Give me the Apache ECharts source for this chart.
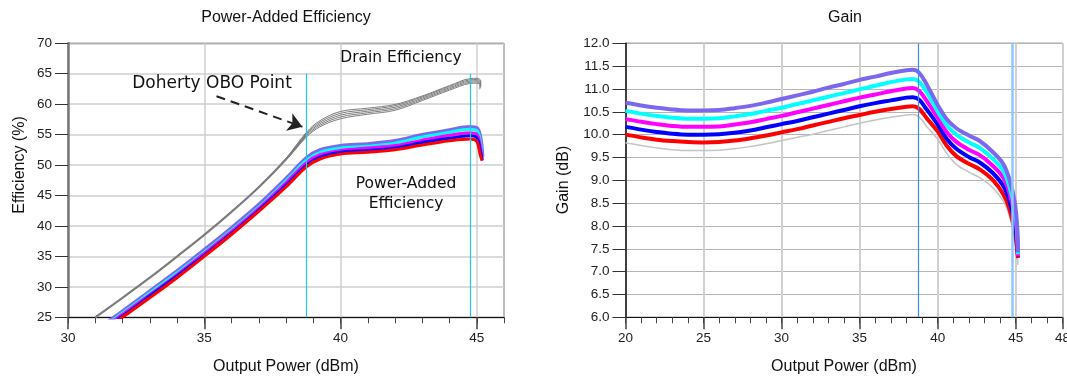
<!DOCTYPE html>
<html>
<head>
<meta charset="utf-8">
<script src="https://cdn.jsdelivr.net/npm/echarts@6/dist/echarts.min.js"></script>
<style>
  html, body { margin: 0; padding: 0; background: #fff; }
  #chart { width: 1067px; height: 380px; }
</style>
</head>
<body>
<div id="chart"></div>
<script>
// ---------- Data ----------
// Left chart: Power-Added Efficiency / Drain Efficiency (x = Output Power, dBm)
const effX = [31, 32, 33, 34, 35, 36, 37, 38, 38.75, 39.25, 40, 41, 42, 43, 44, 44.75, 45.0, 45.12, 45.2];
const paePurple  = [22.7, 25.9, 29.2, 32.5, 36.0, 39.6, 43.4, 47.7, 51.1, 52.4, 53.1, 53.4, 53.9, 54.9, 55.7, 56.2, 56.0, 54.6, 51.4];
const paeCyan    = [22.5, 25.7, 29.0, 32.3, 35.7, 39.3, 43.1, 47.4, 50.8, 52.1, 52.8, 53.1, 53.6, 54.6, 55.4, 55.9, 55.7, 54.2, 51.3];
const paeMagenta = [22.3, 25.5, 28.7, 32.0, 35.5, 39.1, 42.9, 47.1, 50.4, 51.7, 52.4, 52.8, 53.2, 54.1, 54.9, 55.3, 55.1, 53.4, 51.0];
const paeBlue    = [22.1, 25.2, 28.5, 31.8, 35.2, 38.8, 42.6, 46.7, 50.0, 51.3, 52.1, 52.4, 52.8, 53.7, 54.4, 54.8, 54.5, 52.6, 50.8];
const paeRed     = [21.9, 25.0, 28.2, 31.5, 35.0, 38.6, 42.4, 46.4, 49.7, 51.0, 51.8, 52.1, 52.5, 53.3, 54.0, 54.3, 53.9, 51.8, 50.7];

const drainX = [31, 32, 33, 34, 35, 36, 37, 38, 38.75, 39.25, 40, 41, 42, 43, 44, 44.75, 45.0, 45.15, 45.1];
const drainA = [25.0, 28.22, 31.55, 35.02, 38.57, 42.37, 46.42, 51.1, 55.4, 57.3, 58.8, 59.35, 59.95, 61.35, 63.05, 64.2, 64.25, 63.85, 63.25];
const drainB = [25.0, 28.21, 31.53, 35.0, 38.55, 42.35, 46.39, 51.03, 55.2, 57.05, 58.5, 59.1, 59.75, 61.2, 62.9, 64.0, 64.05, 63.65, 63.05];
const drainC = [25.0, 28.2, 31.5, 34.98, 38.53, 42.32, 46.36, 50.96, 55.0, 56.8, 58.2, 58.85, 59.5, 61.0, 62.7, 63.8, 63.85, 63.45, 62.85];
const drainD = [25.0, 28.19, 31.48, 34.96, 38.5, 42.3, 46.33, 50.89, 54.8, 56.55, 57.9, 58.6, 59.25, 60.8, 62.5, 63.6, 63.65, 63.25, 62.65];
const drainE = [25.0, 28.18, 31.46, 34.94, 38.48, 42.28, 46.3, 50.82, 54.6, 56.3, 57.6, 58.35, 59.0, 60.6, 62.3, 63.4, 63.45, 63.05, 62.45];
// lower part of the drain bundle, where the traces merge into one solid line
const drainCoreX = [31, 32, 33, 34, 35, 36, 37, 38, 38.75];
const drainCore  = [25.0, 28.2, 31.5, 34.98, 38.53, 42.32, 46.36, 50.96, 55.0];

// Right chart: Gain (dB)
const gainX = [20, 21, 22, 23, 24, 25, 26, 27, 28, 29, 30, 31, 32, 33, 34, 35, 36, 37, 38, 38.4, 38.8, 39.3, 40, 40.6, 41.2, 42, 42.7, 43.5, 44.2, 44.6, 44.95, 45.1, 45.15];
const gainPurple  = [10.70, 10.64, 10.59, 10.55, 10.53, 10.53, 10.54, 10.58, 10.63, 10.70, 10.78, 10.86, 10.94, 11.03, 11.11, 11.20, 11.27, 11.35, 11.41, 11.42, 11.36, 11.10, 10.65, 10.33, 10.14, 9.98, 9.86, 9.63, 9.36, 9.02, 8.50, 7.95, 7.42];
const gainCyan    = [10.52, 10.46, 10.41, 10.37, 10.35, 10.35, 10.36, 10.40, 10.45, 10.52, 10.59, 10.67, 10.75, 10.83, 10.91, 10.99, 11.07, 11.15, 11.21, 11.22, 11.16, 10.93, 10.51, 10.20, 10.00, 9.83, 9.71, 9.48, 9.21, 8.86, 8.35, 7.85, 7.38];
const gainMagenta = [10.34, 10.28, 10.23, 10.19, 10.17, 10.17, 10.18, 10.22, 10.27, 10.34, 10.41, 10.49, 10.57, 10.65, 10.73, 10.81, 10.88, 10.95, 11.01, 11.02, 10.96, 10.74, 10.37, 10.05, 9.84, 9.67, 9.55, 9.33, 9.06, 8.72, 8.22, 7.75, 7.33];
const gainBlue    = [10.17, 10.11, 10.06, 10.02, 10.00, 10.00, 10.01, 10.04, 10.09, 10.16, 10.23, 10.30, 10.38, 10.46, 10.54, 10.62, 10.69, 10.75, 10.81, 10.82, 10.77, 10.55, 10.22, 9.90, 9.69, 9.51, 9.39, 9.17, 8.88, 8.55, 8.05, 7.60, 7.33];
const gainRed     = [10.00, 9.94, 9.89, 9.86, 9.84, 9.83, 9.84, 9.87, 9.92, 9.98, 10.05, 10.12, 10.20, 10.28, 10.36, 10.43, 10.50, 10.56, 10.61, 10.62, 10.57, 10.36, 10.07, 9.75, 9.53, 9.36, 9.24, 9.02, 8.70, 8.37, 7.86, 7.45, 7.30];
const gainGray    = [9.82, 9.76, 9.71, 9.67, 9.65, 9.65, 9.66, 9.69, 9.74, 9.80, 9.87, 9.94, 10.01, 10.09, 10.17, 10.25, 10.32, 10.38, 10.43, 10.44, 10.39, 10.18, 9.90, 9.58, 9.35, 9.18, 9.06, 8.85, 8.55, 8.22, 7.72, 7.35, 7.15];

// Reference markers (Doherty OBO point and saturation)
const markerX = [38.75, 44.75];
// Annotation arrow (data coordinates) start / end
const arrowFrom = [35.45, 61.3];
const arrowTo = [38.6, 56.3];

// Axis ranges / ticks
const effAxis = { min: 30, max: 46, yMin: 25, yMax: 70, yStep: 5 };
const gainAxis = { min: 20, max: 48, yMin: 6, yMax: 12, yStep: 0.5 };

// ---------- Chart ----------
const zip = (xs, ys) => xs.map((x, i) => [x, ys[i]]);
const FONT = 'Liberation Sans, Arial, sans-serif';
const ANN = 'DejaVu Sans, Verdana, sans-serif';

const chart = echarts.init(document.getElementById('chart'), null, { renderer: 'canvas' });

function majorX(gridIndex, ax, showMax, splitW, splitC) {
  return {
    type: 'value', gridIndex, min: ax.min, max: ax.max, interval: 5, position: 'bottom', offset: 0,
    axisLine: { show: true, onZero: false, lineStyle: { color: '#111', width: 1 } },
    axisTick: { show: true, length: 12, lineStyle: { color: '#444', width: 1.5 } },
    axisLabel: { show: true, margin: 14, fontSize: 13.5, color: '#222', fontFamily: FONT, showMaxLabel: showMax, showMinLabel: true, hideOverlap: false },
    splitLine: { show: true, lineStyle: { color: splitC, width: splitW } }
  };
}
function minorX(gridIndex, ax) {
  return {
    type: 'value', gridIndex, min: ax.min, max: ax.max, interval: 1, position: 'bottom', offset: 0,
    axisLine: { show: false, onZero: false },
    axisTick: { show: true, length: 6, lineStyle: { color: '#444', width: 1 } },
    axisLabel: { show: false },
    splitLine: { show: false }
  };
}

const lineS = (name, xi, yi, data, color, width, z) => ({
  name, type: 'line', xAxisIndex: xi, yAxisIndex: yi, data, smooth: 0.35,
  showSymbol: false, symbol: 'none', clip: true, z: z || 2,
  lineStyle: { color, width }, emphasis: { disabled: true }, animation: false
});

const option = {
  animation: false,
  grid: [
    { left: 68, top: 43.3, width: 436, height: 274, show: true, borderColor: '#222', borderWidth: 1, backgroundColor: 'transparent', containLabel: false, outerBoundsMode: 'none' },
    { left: 625.5, top: 43.3, width: 437, height: 274, show: true, borderColor: '#222', borderWidth: 1, backgroundColor: 'transparent', containLabel: false, outerBoundsMode: 'none' }
  ],
  xAxis: [
    majorX(0, effAxis, false, 1.5, '#cfcfcf'),
    minorX(0, effAxis),
    majorX(1, gainAxis, true, 2, '#d0d0d0'),
    minorX(1, gainAxis)
  ],
  yAxis: [
    {
      type: 'value', gridIndex: 0, min: effAxis.yMin, max: effAxis.yMax, interval: effAxis.yStep,
      axisLine: { show: true, lineStyle: { color: '#777', width: 2.5 } },
      axisTick: { show: true, length: 13, lineStyle: { color: '#333', width: 1 } },
      axisLabel: { margin: 16, fontSize: 13.5, color: '#222', fontFamily: FONT },
      splitLine: { show: true, lineStyle: { color: '#cfcfcf', width: 1.5 } }
    },
    {
      type: 'value', gridIndex: 1, min: gainAxis.yMin, max: gainAxis.yMax, interval: gainAxis.yStep,
      axisLine: { show: true, lineStyle: { color: '#111', width: 1.5 } },
      axisTick: { show: true, length: 13, lineStyle: { color: '#333', width: 1 } },
      axisLabel: { margin: 16, fontSize: 13.5, color: '#222', fontFamily: FONT, formatter: v => v.toFixed(1) },
      splitLine: { show: true, lineStyle: { color: '#b4b4b4', width: 1 } }
    }
  ],
  graphic: [
    { type: 'text', x: 286, y: 18, style: { text: 'Power-Added Efficiency', fontSize: 16, fontFamily: FONT, fill: '#111', align: 'center', verticalAlign: 'middle' } },
    { type: 'text', x: 845, y: 18, style: { text: 'Gain', fontSize: 16, fontFamily: FONT, fill: '#111', align: 'center', verticalAlign: 'middle' } },
    { type: 'text', x: 286, y: 367, style: { text: 'Output Power (dBm)', fontSize: 16, fontFamily: FONT, fill: '#111', align: 'center', verticalAlign: 'middle' } },
    { type: 'text', x: 844, y: 367, style: { text: 'Output Power (dBm)', fontSize: 16, fontFamily: FONT, fill: '#111', align: 'center', verticalAlign: 'middle' } },
    { type: 'text', x: 20, y: 165, rotation: Math.PI / 2, style: { text: 'Efficiency (%)', fontSize: 16, fontFamily: FONT, fill: '#111', align: 'center', verticalAlign: 'middle' } },
    { type: 'text', x: 564, y: 180, rotation: Math.PI / 2, style: { text: 'Gain (dB)', fontSize: 16, fontFamily: FONT, fill: '#111', align: 'center', verticalAlign: 'middle' } },
    { type: 'text', x: 401, y: 58, z: 100, style: { text: 'Drain Efficiency', fontSize: 15.5, fontFamily: ANN, fill: '#111', align: 'center', verticalAlign: 'middle' } },
    { type: 'text', x: 212, y: 84, z: 100, style: { text: 'Doherty OBO Point', fontSize: 17, fontFamily: ANN, fill: '#111', align: 'center', verticalAlign: 'middle' } },
    { type: 'text', x: 406, y: 184, z: 100, style: { text: 'Power-Added', fontSize: 15.5, fontFamily: ANN, fill: '#111', align: 'center', verticalAlign: 'middle' } },
    { type: 'text', x: 406, y: 204, z: 100, style: { text: 'Efficiency', fontSize: 15.5, fontFamily: ANN, fill: '#111', align: 'center', verticalAlign: 'middle' } }
  ],
  series: [
    // Drain efficiency bundle
    lineS('drainCore', 0, 0, zip(drainCoreX, drainCore), '#858585', 2.2),
    lineS('drainA', 0, 0, zip(drainX, drainA), '#7d7d7d', 1),
    lineS('drainB', 0, 0, zip(drainX, drainB), '#7d7d7d', 1),
    lineS('drainC', 0, 0, zip(drainX, drainC), '#7d7d7d', 1),
    lineS('drainD', 0, 0, zip(drainX, drainD), '#7d7d7d', 1),
    lineS('drainE', 0, 0, zip(drainX, drainE), '#7d7d7d', 1),
    // PAE
    lineS('paePurple', 0, 0, zip(effX, paePurple), '#7b68ee', 4.5, 3),
    lineS('paeCyan', 0, 0, zip(effX, paeCyan), '#00ffff', 3, 3),
    lineS('paeMagenta', 0, 0, zip(effX, paeMagenta), '#ff00ff', 3, 3),
    lineS('paeBlue', 0, 0, zip(effX, paeBlue), '#0000ff', 3, 3),
    lineS('paeRed', 0, 0, zip(effX, paeRed), '#ff0000', 3, 3),
    // Gain
    lineS('gainGray', 2, 1, zip(gainX, gainGray), '#c4c4c4', 1.5),
    lineS('gainRed', 2, 1, zip(gainX, gainRed), '#ff0000', 4, 3),
    lineS('gainBlue', 2, 1, zip(gainX, gainBlue), '#0000ff', 4, 3),
    lineS('gainMagenta', 2, 1, zip(gainX, gainMagenta), '#ff00ff', 4, 3),
    lineS('gainCyan', 2, 1, zip(gainX, gainCyan), '#00ffff', 4, 3),
    lineS('gainPurple', 2, 1, zip(gainX, gainPurple), '#7b68ee', 4, 3),
    // Markers left
    {
      type: 'line', xAxisIndex: 0, yAxisIndex: 0, data: [], z: 10, animation: false,
      markLine: {
        silent: true, symbol: 'none', label: { show: false }, animation: false,
        lineStyle: { color: '#1ec8f0', width: 1.2, type: 'solid' },
        data: markerX.map(x => [{ coord: [x, 65] }, { coord: [x, effAxis.yMin] }])
      }
    },
    {
      type: 'line', xAxisIndex: 0, yAxisIndex: 0, data: [], z: 11, animation: false,
      markLine: {
        silent: true, symbol: ['none', 'arrow'], symbolSize: 14, label: { show: false }, animation: false,
        lineStyle: { color: '#222', width: 2, type: [9, 6] },
        data: [[{ coord: arrowFrom }, { coord: arrowTo }]]
      }
    },
    // Markers right
    {
      type: 'line', xAxisIndex: 2, yAxisIndex: 1, data: [], z: 10, animation: false,
      markLine: {
        silent: true, symbol: 'none', label: { show: false }, animation: false,
        data: [
          { xAxis: markerX[0], lineStyle: { color: '#3a8ef0', width: 1.2, type: 'solid' } },
          { xAxis: markerX[1], lineStyle: { color: '#8cc8ff', width: 2.5, type: 'solid' } }
        ]
      }
    }
  ]
};
chart.setOption(option);
</script>
</body>
</html>
